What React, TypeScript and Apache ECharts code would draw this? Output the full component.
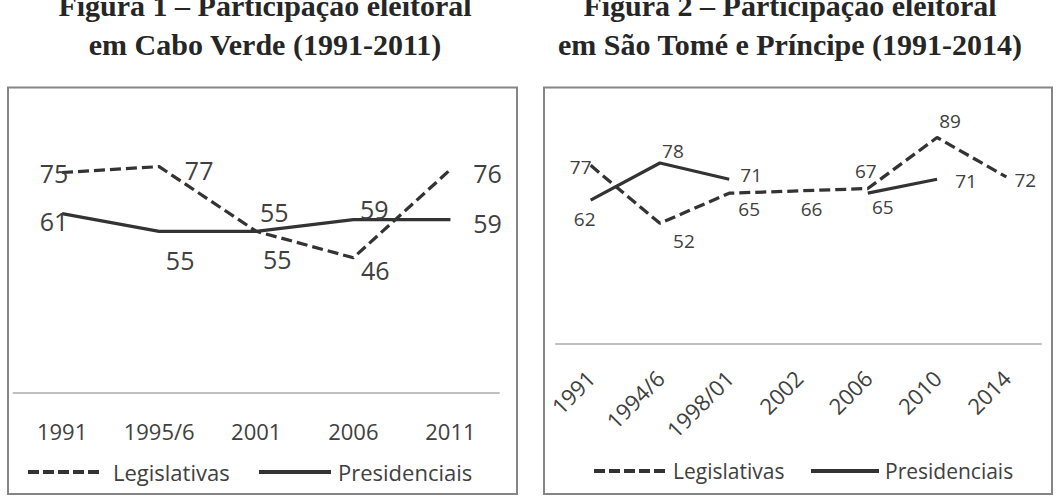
import { useEffect, useRef } from "react";
import * as echarts from "echarts";

// Figura 1 – Cabo Verde
const caboVerdeYears = ["1991", "1995/6", "2001", "2006", "2011"];
const caboVerdeLegislativas = [75, 77, 55, 46, 76];
const caboVerdePresidenciais = [61, 55, 55, 59, 59];

// Figura 2 – São Tomé e Príncipe
const stpYears = ["1991", "1994/6", "1998/01", "2002", "2006", "2010", "2014"];
const stpLegislativas = [77, 52, 65, 66, 67, 89, 72];
const stpPresidenciais: (number | null)[] = [62, 78, 71, null, 65, 71, null];

const seriesNames = ["Legislativas", "Presidenciais"];

// Per-point label nudges (px) so the value labels sit beside their lines
const cvLegOffsets = [[-8, 0], [40, 3], [21, 28], [22, 12], [37, 3]];
const cvPresOffsets = [[-8, 7], [21, 29], [18, -19], [21, -11], [37, 3]];
const stpLegOffsets = [[-10, 2], [24, 18], [20, 16], [13, 18], [-2, -18], [13, -17], [19, 3]];
const stpPresOffsets = [[-6, 19], [13, -12], [22, -4], [0, 0], [15, 14], [29, 2], [0, 0]];

const FONT = "'Open Sans', 'Noto Sans', sans-serif";
const LINE = "#333333";
const TEXT = "#404040";
const DASH = [11, 5];

function withOffsets(values: (number | null)[], offsets: number[][]) {
  return values.map((v, i) =>
    v === null ? null : { value: v, label: { offset: offsets[i] } }
  );
}

function lineSeries(
  name: string,
  values: (number | null)[],
  offsets: number[][],
  axis: number,
  dashed: boolean,
  fontSize: number
) {
  return {
    type: "line",
    name,
    xAxisIndex: axis,
    yAxisIndex: axis,
    data: withOffsets(values, offsets),
    connectNulls: false,
    symbol: "circle",
    symbolSize: 1,
    itemStyle: { color: "rgba(0,0,0,0)" },
    lineStyle: { color: LINE, width: 3.25, type: dashed ? DASH : "solid" },
    label: {
      show: true,
      position: "inside",
      color: TEXT,
      fontFamily: FONT,
      fontSize,
    },
    silent: true,
  };
}

function legend(
  name: string,
  dashed: boolean,
  left: number,
  top: number,
  iconWidth: number,
  fontSize: number,
  textGap: number
) {
  return {
    data: [name],
    left,
    top,
    padding: 0,
    orient: "horizontal",
    itemWidth: iconWidth,
    itemHeight: 14,
    selectedMode: false,
    lineStyle: { color: LINE, width: 4, type: dashed ? [11, 4] : "solid" },
    textStyle: {
      color: TEXT,
      fontFamily: FONT,
      fontSize,
      lineHeight: 24,
      padding: [0, 0, 0, textGap],
    },
  };
}

export default function App() {
  const ref = useRef<HTMLDivElement>(null);

  useEffect(() => {
    if (!ref.current) return;
    const chart = echarts.init(ref.current, null, { renderer: "svg" });

    const titleStyle = {
      font: "bold 30px 'Liberation Serif', 'Times New Roman', serif",
      fill: "#262626",
      align: "center",
      verticalAlign: "top",
      lineHeight: 39,
    };

    chart.setOption({
      animation: false,
      backgroundColor: "#ffffff",
      graphic: [
        {
          type: "rect",
          shape: { x: 8, y: 87.5, width: 509, height: 406.5 },
          style: { fill: "none", stroke: "#858585", lineWidth: 2 },
          silent: true,
        },
        {
          type: "rect",
          shape: { x: 544, y: 87.5, width: 508, height: 406.5 },
          style: { fill: "none", stroke: "#858585", lineWidth: 2 },
          silent: true,
        },
        {
          type: "text",
          x: 265,
          y: -14.5,
          style: {
            ...titleStyle,
            text: "Figura 1 – Participação eleitoral\nem Cabo Verde (1991-2011)",
          },
          silent: true,
        },
        {
          type: "text",
          x: 790,
          y: -14.5,
          style: {
            ...titleStyle,
            text: "Figura 2 – Participação eleitoral\nem São Tomé e Príncipe (1991-2014)",
          },
          silent: true,
        },
      ],
      grid: [
        { left: 13.5, top: 99, width: 485.5, height: 294 },
        { left: 556, top: 112, width: 485, height: 232 },
      ],
      xAxis: [
        {
          type: "category",
          gridIndex: 0,
          data: caboVerdeYears,
          boundaryGap: true,
          axisLine: { lineStyle: { color: "#bfbfbf", width: 2 } },
          axisTick: { show: false },
          axisLabel: {
            color: TEXT,
            fontFamily: FONT,
            fontSize: 22,
            lineHeight: 22,
            margin: 27,
            interval: 0,
          },
        },
        {
          type: "category",
          gridIndex: 1,
          data: stpYears,
          boundaryGap: true,
          axisLine: { lineStyle: { color: "#bfbfbf", width: 2 } },
          axisTick: { show: false },
          axisLabel: {
            color: TEXT,
            fontFamily: FONT,
            fontSize: 22,
            rotate: 45,
            margin: 30,
            interval: 0,
          },
        },
      ],
      yAxis: [
        { type: "value", gridIndex: 0, min: 0, max: 100, show: false },
        { type: "value", gridIndex: 1, min: 0, max: 100, show: false },
      ],
      legend: [
        legend(seriesNames[0], true, 26, 460, 75, 22, 5),
        legend(seriesNames[1], false, 257, 460, 72, 22, 2),
        legend(seriesNames[0], true, 592, 459, 73, 21, 1),
        legend(seriesNames[1], false, 809, 459, 68, 21, 1),
      ],
      series: [
        lineSeries(seriesNames[0], caboVerdeLegislativas, cvLegOffsets, 0, true, 25),
        lineSeries(seriesNames[1], caboVerdePresidenciais, cvPresOffsets, 0, false, 25),
        lineSeries(seriesNames[0], stpLegislativas, stpLegOffsets, 1, true, 19),
        lineSeries(seriesNames[1], stpPresidenciais, stpPresOffsets, 1, false, 19),
      ],
    });

    return () => chart.dispose();
  }, []);

  return (
    <div
      ref={ref}
      style={{
        position: "fixed",
        left: 0,
        top: 0,
        width: 1058,
        height: 497,
        background: "#ffffff",
      }}
    />
  );
}
